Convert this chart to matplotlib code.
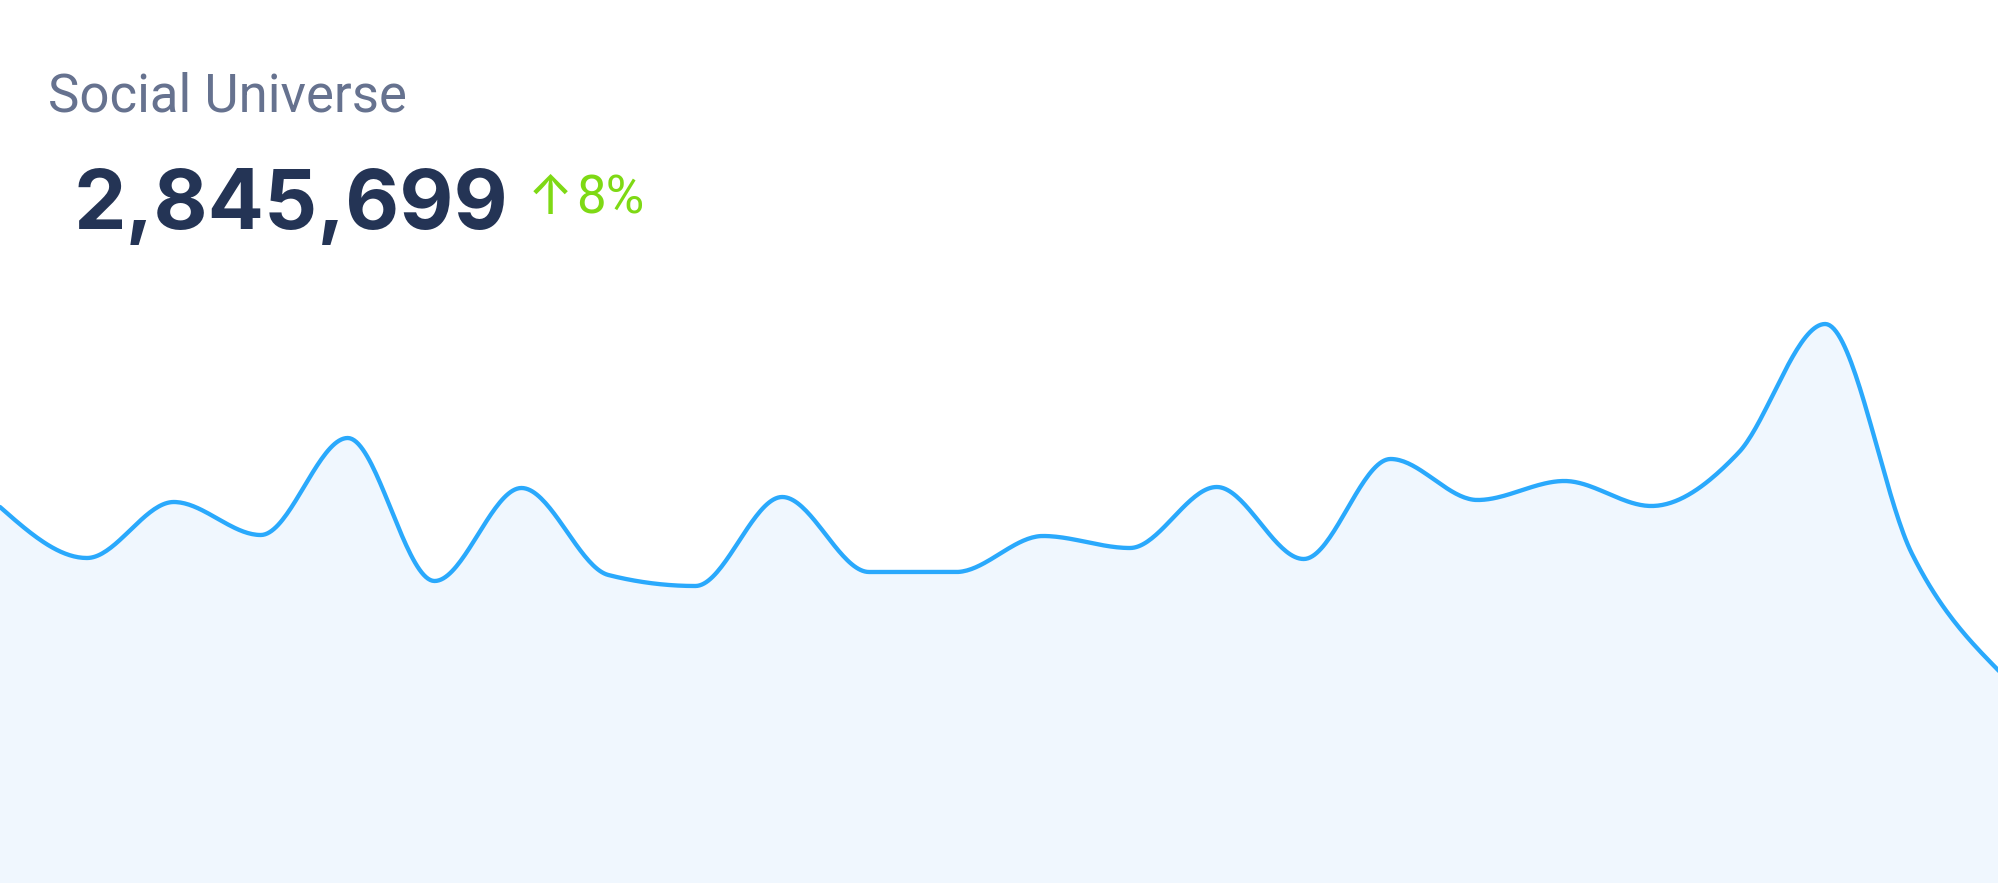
import matplotlib
matplotlib.use('Agg')
import numpy as np
import matplotlib.pyplot as plt

# data (24 evenly spaced samples)
title = 'Social Universe'
total = '2,845,699'
change = '8%'
values = [376, 325, 381, 348, 445, 302, 395, 308, 297, 386, 311, 311,
          347, 335, 396, 324, 424, 383, 402, 377, 430, 559, 329, 212]

W, H = 1999, 883


def monotone_x(x, y, n=40):
    # steffen / d3 curveMonotoneX style interpolation
    x = np.asarray(x, float)
    y = np.asarray(y, float)
    h = np.diff(x)
    s = np.diff(y) / h
    t = np.zeros_like(y)
    for i in range(1, len(y) - 1):
        p = (s[i - 1] * h[i] + s[i] * h[i - 1]) / (h[i - 1] + h[i])
        t[i] = (np.sign(s[i - 1]) + np.sign(s[i])) * min(abs(s[i - 1]), abs(s[i]), 0.5 * abs(p))
    t[0] = (3 * s[0] - t[1]) / 2
    t[-1] = (3 * s[-1] - t[-2]) / 2
    xs, ys = [], []
    for i in range(len(h)):
        u = np.linspace(0, 1, n, endpoint=False)
        h00 = 2 * u**3 - 3 * u**2 + 1
        h10 = u**3 - 2 * u**2 + u
        h01 = -2 * u**3 + 3 * u**2
        h11 = u**3 - u**2
        xs.append(x[i] + u * h[i])
        ys.append(h00 * y[i] + h10 * h[i] * t[i] + h01 * y[i + 1] + h11 * h[i] * t[i + 1])
    xs.append([x[-1]])
    ys.append([y[-1]])
    return np.concatenate(xs), np.concatenate(ys)


fig = plt.figure(figsize=(W / 100, H / 100), dpi=100)
fig.patch.set_facecolor('white')
ax = fig.add_axes([0, 0, 1, 1])
x = np.arange(len(values))
xs, ys = monotone_x(x, values)
ax.fill_between(xs, ys, 0, color='#f0f7fe', lw=0)
ax.plot(xs, ys, color='#2aa9fc', lw=3.1, solid_capstyle='round')
ax.set_xlim(0, len(values) - 1)
ax.set_ylim(0, H)
ax.axis('off')

fig.text(48 / W, 1 - 112 / H, title, fontsize=38, color='#66728f',
         family=['Roboto', 'DejaVu Sans'], va='baseline', ha='left')
fig.text(74 / W, 1 - 229 / H, total, fontsize=60, color='#243455', weight='bold',
         family=['Inter', 'DejaVu Sans'], va='baseline', ha='left')
# up arrow + percent change
fig.text(528 / W, 1 - 214 / H, '\u2191', fontsize=39, color='#7ed914',
         family=['Inter', 'DejaVu Sans'], va='baseline', ha='left')
fig.text(576 / W, 1 - 214 / H, change, fontsize=38, color='#7ed914',
         family=['Roboto', 'DejaVu Sans'], va='baseline', ha='left')

plt.savefig('out.png', dpi=100, facecolor='white')
